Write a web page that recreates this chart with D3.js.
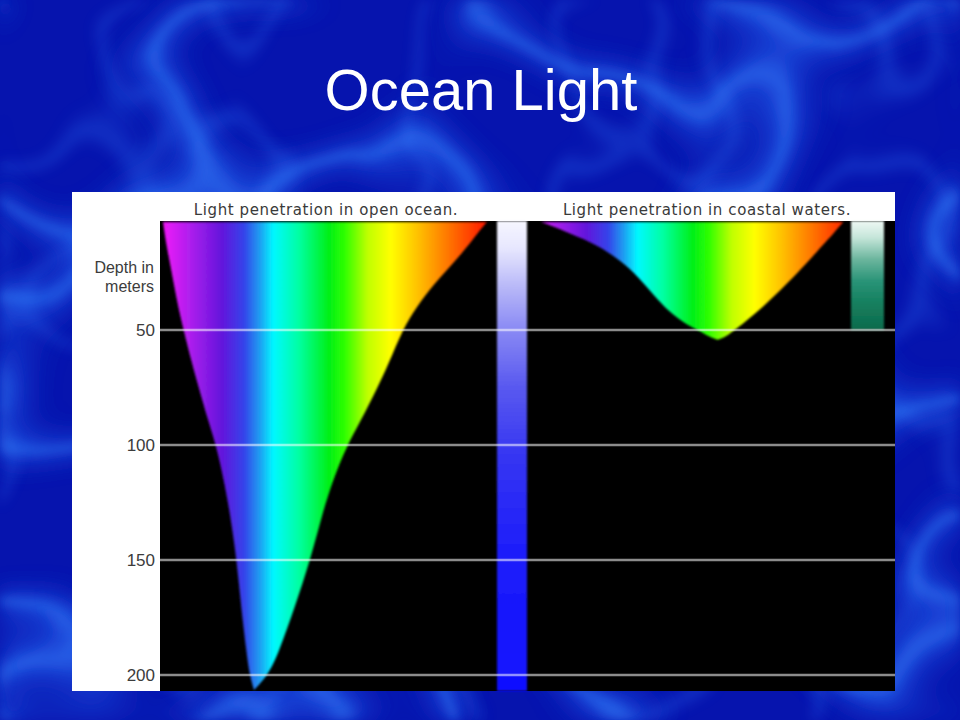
<!DOCTYPE html>
<html>
<head>
<meta charset="utf-8">
<script src="https://cdn.jsdelivr.net/npm/d3@7/dist/d3.min.js"></script>
<style>
  html, body { margin: 0; padding: 0; background: #0612ac; }
  svg { display: block; }
</style>
</head>
<body>
<svg id="chart" width="960" height="720"></svg>
<script>
// ---------------- DATA ----------------
const chartTitle = "Ocean Light";
const panelTitles = ["Light penetration in open ocean.", "Light penetration in coastal waters."];
const axisLabel = ["Depth in", "meters"];
const depthTicks = [50, 100, 150, 200];

// open ocean: depth (m) and shortest / longest wavelength (nm) of light still present
const openDepth = [3, 10, 20, 30, 40, 50, 65, 75, 90, 100, 115, 130, 150, 170, 190, 200, 206.5];
const openShort = [400, 402, 406, 410, 414, 419, 427, 433, 442, 449, 456, 462, 468, 472, 477, 480, 484];
const openLong  = [699, 687, 670, 650, 634, 621, 608, 598, 582, 570, 557, 547, 536, 522, 507, 497, 484];

// coastal waters
const coastDepth = [3, 8, 13, 20, 27, 35, 42, 47, 50, 52, 53.5, 54.2];
const coastShort = [413, 440, 465, 487, 503, 517, 531, 545, 557, 565, 571, 576];
const coastLong  = [692, 683, 673, 660, 646, 629, 613, 600, 592, 586, 581, 576];

// spectrum colour stops (fraction of 400–700 nm)
const spectrumOffsets = [0, 0.08, 0.18, 0.25, 0.30, 0.34, 0.42, 0.51, 0.56, 0.63, 0.70, 0.78, 0.86, 1.0];
const spectrumColors  = ["#f018f8", "#b020ee", "#6414dc", "#3444ea", "#1ea2f2", "#00f8ff", "#00ffa0", "#00f018", "#30ff00", "#c0ff00", "#ffff00", "#ffc400", "#ff8400", "#ff1400"];

// colour of light reaching depth in the two waters
const blueOffsets = [0, 0.06, 0.14, 0.23, 0.35, 0.5, 0.7, 1];
const blueColors  = ["#f6f6ff", "#e6e6fe", "#b8b8f8", "#8a8af4", "#5a5af0", "#3636f2", "#1e1efa", "#1010ff"];
const greenOffsets = [0, 0.15, 0.35, 0.55, 0.75, 1];
const greenColors  = ["#eef8f4", "#c6e6da", "#6cb69e", "#2a9478", "#15805f", "#0e6a4c"];

// ---------------- LAYOUT ----------------
const W = 960, H = 720;
const card = {x: 72, y: 192, w: 823, h: 499};
const plotTop = 221, plotBottom = 691, plotLeft = 160, plotRight = 895;
const barX0 = 497, barX1 = 527;
const stripX0 = 851, stripX1 = 884;

const svg = d3.select("#chart");
const defs = svg.append("defs");

// ---------- background water caustics ----------
function ridgeTable(n, w) {
  const v = [];
  for (let i = 0; i < n; i++) {
    const t = i / (n - 1) - 0.5;
    v.push(Math.exp(-(t * t) / (w * w)).toFixed(3));
  }
  return v.join(" ");
}
function causticFilter(id, freq, seed, width, blur, color) {
  const f = defs.append("filter").attr("id", id)
    .attr("filterUnits", "userSpaceOnUse")
    .attr("x", 0).attr("y", 0).attr("width", W).attr("height", H);
  f.append("feTurbulence").attr("type", "fractalNoise")
    .attr("baseFrequency", freq).attr("numOctaves", 2).attr("seed", seed).attr("result", "n");
  f.append("feColorMatrix").attr("in", "n").attr("type", "matrix")
    .attr("values", "0 0 0 0 0  0 0 0 0 0  0 0 0 0 0  1 0 0 0 0").attr("result", "a");
  const ct = f.append("feComponentTransfer").attr("in", "a").attr("result", "r");
  ct.append("feFuncA").attr("type", "table").attr("tableValues", ridgeTable(81, width));
  f.append("feGaussianBlur").attr("in", "r").attr("stdDeviation", blur).attr("result", "b");
  f.append("feFlood").attr("flood-color", color).attr("result", "c");
  f.append("feComposite").attr("in", "c").attr("in2", "b").attr("operator", "in");
}
causticFilter("caustA", "0.0042 0.005", 11, 0.06, 10, "#1c48dc");
causticFilter("caustB", "0.0042 0.005", 11, 0.02, 4.5, "#3a8cff");
causticFilter("caustC", "0.007 0.006", 4, 0.025, 6, "#2a66ee");

svg.append("rect").attr("width", W).attr("height", H).attr("fill", "#0614ae");
svg.append("rect").attr("width", W).attr("height", H).attr("fill", "#fff").attr("filter", "url(#caustA)").attr("opacity", 0.85);
svg.append("rect").attr("width", W).attr("height", H).attr("fill", "#fff").attr("filter", "url(#caustC)").attr("opacity", 0.35);
svg.append("rect").attr("width", W).attr("height", H).attr("fill", "#fff").attr("filter", "url(#caustB)").attr("opacity", 0.4);

// ---------- title ----------
svg.append("text").attr("x", 481).attr("y", 110).attr("text-anchor", "middle")
  .attr("font-family", "Liberation Sans, Arial, sans-serif").attr("font-size", 58)
  .attr("fill", "#ffffff").text(chartTitle);

// ---------- card ----------
svg.append("rect").attr("x", card.x).attr("y", card.y).attr("width", card.w).attr("height", card.h).attr("fill", "#ffffff");
svg.append("rect").attr("x", plotLeft).attr("y", plotTop).attr("width", plotRight - plotLeft).attr("height", plotBottom - plotTop).attr("fill", "#000000");

// ---------- scales ----------
const y = d3.scaleLinear().domain([0, 200]).range([215, 675]);
const xOpen = d3.scaleLinear().domain([400, 700]).range([163, 488]);
const xCoast = d3.scaleLinear().domain([400, 700]).range([527, 852]);

// gradients
function spectrumGradient(id, xs) {
  const g = defs.append("linearGradient").attr("id", id).attr("gradientUnits", "userSpaceOnUse")
    .attr("x1", xs(400)).attr("x2", xs(700)).attr("y1", 0).attr("y2", 0);
  spectrumOffsets.forEach((o, i) => g.append("stop").attr("offset", o).attr("stop-color", spectrumColors[i]));
}
spectrumGradient("specOpen", xOpen);
spectrumGradient("specCoast", xCoast);

function vGradient(id, y1, y2, offs, cols) {
  const g = defs.append("linearGradient").attr("id", id).attr("gradientUnits", "userSpaceOnUse")
    .attr("x1", 0).attr("x2", 0).attr("y1", y1).attr("y2", y2);
  offs.forEach((o, i) => g.append("stop").attr("offset", o).attr("stop-color", cols[i]));
}
vGradient("blueGrad", plotTop, plotBottom, blueOffsets, blueColors);
vGradient("greenGrad", plotTop, y(50), greenOffsets, greenColors);

defs.append("filter").attr("id", "soft").append("feGaussianBlur").attr("stdDeviation", 0.9);

defs.append("clipPath").attr("id", "clipOpen").append("rect")
  .attr("x", plotLeft).attr("y", plotTop).attr("width", barX0 - plotLeft).attr("height", plotBottom - plotTop);
defs.append("clipPath").attr("id", "clipCoast").append("rect")
  .attr("x", barX1).attr("y", plotTop).attr("width", stripX0 - barX1).attr("height", plotBottom - plotTop);

// ---------- spectrum areas ----------
const openData = openDepth.map((d, i) => ({depth: d, lo: openShort[i], hi: openLong[i]}));
const coastData = coastDepth.map((d, i) => ({depth: d, lo: coastShort[i], hi: coastLong[i]}));

function areaGen(xs) {
  return d3.area().curve(d3.curveBasis)
    .y(d => y(d.depth)).x0(d => xs(d.lo)).x1(d => xs(d.hi));
}
svg.append("g").attr("clip-path", "url(#clipOpen)")
  .append("path").datum(openData).attr("d", areaGen(xOpen))
  .attr("fill", "url(#specOpen)").attr("filter", "url(#soft)");
svg.append("g").attr("clip-path", "url(#clipCoast)")
  .append("path").datum(coastData).attr("d", areaGen(xCoast))
  .attr("fill", "url(#specCoast)").attr("filter", "url(#soft)");

// ---------- blue & green light columns ----------
svg.append("rect").attr("x", barX0).attr("y", plotTop).attr("width", barX1 - barX0).attr("height", plotBottom - plotTop)
  .attr("fill", "url(#blueGrad)").attr("filter", "url(#soft)");
svg.append("rect").attr("x", stripX0).attr("y", plotTop).attr("width", stripX1 - stripX0).attr("height", y(50) - plotTop)
  .attr("fill", "url(#greenGrad)").attr("filter", "url(#soft)");

// ---------- grid lines ----------
svg.append("g").selectAll("line").data(depthTicks).join("line")
  .attr("x1", plotLeft).attr("x2", plotRight)
  .attr("y1", d => y(d)).attr("y2", d => y(d))
  .attr("stroke", "#ffffff").attr("stroke-opacity", 0.55).attr("stroke-width", 2.4);

// ---------- axis labels ----------
const axisG = svg.append("g").attr("font-family", "Liberation Sans, Arial, sans-serif").attr("fill", "#3c3c3c");
axisG.selectAll("text.tick").data(depthTicks).join("text").attr("class", "tick")
  .attr("x", 155).attr("y", d => y(d) + 6).attr("text-anchor", "end").attr("font-size", 17)
  .text(d => d);
axisG.selectAll("text.lab").data(axisLabel).join("text").attr("class", "lab")
  .attr("x", 154).attr("y", (d, i) => 273 + i * 19).attr("text-anchor", "end").attr("font-size", 16)
  .text(d => d);

// ---------- panel titles ----------
const titleX = [326, 707];
svg.append("g").selectAll("text").data(panelTitles).join("text")
  .attr("x", (d, i) => titleX[i]).attr("y", 215).attr("text-anchor", "middle")
  .attr("font-family", "DejaVu Sans, sans-serif").attr("font-size", 15).attr("letter-spacing", 0.6)
  .attr("fill", "#3a3a3a").text(d => d);
</script>
</body>
</html>
